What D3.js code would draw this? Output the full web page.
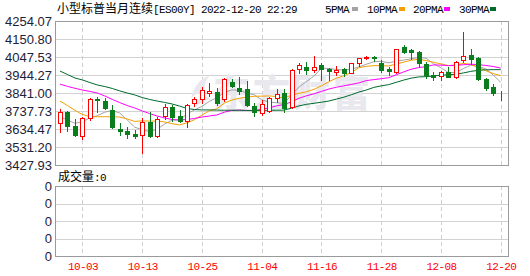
<!DOCTYPE html>
<html><head><meta charset="utf-8">
<script src="https://cdn.jsdelivr.net/npm/d3@7"></script>
<style>body{margin:0;background:#fff;}svg{display:block}</style>
</head><body>
<svg id="c" width="530" height="276"></svg>
<script>
const dates = ["09-28","09-29","09-30","10-03","10-04","10-05","10-06","10-07","10-10","10-11",
"10-12","10-13","10-14","10-17","10-18","10-19","10-20","10-21","10-24","10-25",
"10-26","10-27","10-28","10-31","11-01","11-02","11-03","11-04","11-07","11-08",
"11-09","11-10","11-11","11-14","11-15","11-16","11-17","11-18","11-21","11-22",
"11-23","11-24","11-25","11-28","11-29","11-30","12-01","12-02","12-05","12-06",
"12-07","12-08","12-09","12-12","12-13","12-14","12-15","12-16","12-19","12-20"];
const open = [3667,3730,3652,3596,3699,3807,3795,3744,3635,3623,
3606,3600,3676,3596,3711,3762,3709,3682,3782,3808,
3839,3845,3805,3906,3871,3862,3766,3728,3739,3811,
3839,3762,3976,3988,3973,3999,3977,3960,3977,3958,
4015,4044,4049,4015,3977,3963,4107,4086,4075,4007,
3944,3940,3963,3931,4029,4059,4040,3920,3877,3843];
const high = [3749,3738,3692,3702,3811,3820,3811,3772,3667,3648,
3629,3699,3734,3705,3778,3772,3744,3776,3820,3877,
3897,3868,3925,3920,3931,3912,3782,3801,3820,3862,
3862,3977,4015,4021,4053,4015,3983,3996,3983,4015,
4044,4055,4055,4030,3992,4093,4116,4092,4082,4017,
3963,3967,3992,4025,4189,4093,4046,3929,3891,3853];
const low = [3616,3623,3596,3575,3686,3734,3749,3642,3600,3581,
3585,3499,3590,3590,3692,3680,3673,3644,3768,3785,
3824,3772,3797,3877,3835,3766,3709,3715,3734,3791,
3734,3757,3954,3950,3962,3916,3916,3944,3939,3954,
3996,4036,4026,3963,3944,3958,4069,4036,3992,3925,
3916,3916,3932,3925,4021,4006,3916,3858,3830,3801];
const close = [3730,3653,3600,3698,3807,3799,3753,3648,3625,3606,
3593,3676,3596,3692,3759,3705,3680,3771,3805,3858,
3853,3782,3920,3881,3851,3772,3730,3776,3814,3834,
3753,3973,4002,3973,3988,3977,3969,3973,3958,4011,
4040,4049,4040,3973,3966,4092,4078,4078,4011,3944,
3935,3963,3935,4017,4053,4036,3921,3871,3843,3839];
const ma5 = [3705,3686,3667,3676,3698,3711,3731,3741,3726,3686,
3645,3630,3619,3633,3663,3686,3686,3721,3744,3764,
3793,3814,3844,3859,3857,3841,3831,3802,3789,3785,
3781,3830,3875,3907,3938,3983,3982,3976,3973,3978,
3990,4006,4020,4023,4014,4024,4030,4037,4045,4041,
4009,3986,3958,3959,3981,4001,3992,3980,3945,3902];
const ma10 = [3795,3769,3741,3718,3705,3705,3705,3705,3703,3692,
3678,3681,3680,3680,3675,3665,3658,3670,3688,3714,
3740,3750,3783,3801,3811,3817,3822,3823,3824,3821,
3811,3830,3839,3848,3862,3882,3906,3926,3940,3958,
3986,3994,3998,3998,3996,4007,4018,4029,4034,4027,
4017,4008,3998,4002,4011,4005,3989,3969,3952,3941];
const ma20 = [3892,3879,3868,3858,3850,3841,3824,3804,3786,3769,
3755,3738,3723,3709,3698,3689,3686,3689,3695,3703,
3709,3715,3731,3741,3743,3741,3740,3747,3756,3767,
3775,3790,3811,3825,3836,3850,3864,3874,3882,3890,
3899,3912,3918,3923,3929,3945,3962,3977,3987,3992,
4002,4001,3998,4000,4003,4006,4004,3999,3993,3984];
const ma30 = [3967,3947,3927,3916,3901,3887,3878,3867,3853,3841,
3830,3815,3804,3795,3787,3778,3766,3752,3746,3744,
3744,3743,3742,3742,3742,3741,3741,3741,3742,3742,
3743,3754,3767,3776,3782,3788,3795,3806,3817,3831,
3846,3858,3873,3882,3889,3902,3915,3926,3933,3935,
3938,3944,3945,3949,3956,3965,3971,3974,3975,3975];
const yTickLabels = ["4254.07","4150.80","4047.53","3944.27","3841.00","3737.73","3634.47","3531.20","3427.93"];
const xTickLabels = ["10-03","10-13","10-25","11-04","11-16","11-28","12-08","12-20"];
const volTickLabels = ["0","0","0","0","0"];
const titleCn = "小型标普当月连续";
const titleEn = "[ES00Y] 2022-12-20 22:29";
const volTitleCn = "成交量";
const volTitleEn = ":0";
const legendNames = ["5PMA","10PMA","20PMA","30PMA"];
const watermark = "东方财富";

const maSeries = [ma5, ma10, ma20, ma30];
const maColors = ["#a3a3a3","#f5a000","#ff00ff","#006a2c"];
const legendTextX = [325, 367, 413, 459];
const legendSwX = [352, 399, 444, 490];
const RED = "#ff0000", GREEN = "#0a7d1c";
const MONO = "'Liberation Mono','DejaVu Sans Mono',monospace";
const CJK = "'Noto Sans CJK SC',sans-serif";

const L = 55, R = 509, T = 21, B = 165, VT = 186, VB = 256;
const svg = d3.select("#c");
const px = v => Math.round(v) + 0.5;

const x = d3.scalePoint().domain(dates).range([60, 500.7]);
const y = d3.scaleLinear().domain([+yTickLabels[8], +yTickLabels[0]]).range([B, T]);
const yv = d3.scaleLinear().domain([0, volTickLabels.length - 1]).range([VB, VT]);

// title
const tt = svg.append("text").attr("x", 57).attr("y", 13).attr("fill", "#000");
tt.append("tspan").style("font-family", CJK).style("font-size", "12px").text(titleCn);
tt.append("tspan").style("font-family", MONO).style("font-size", "11px").style("letter-spacing", "-0.6px").text(titleEn);

// legend
legendNames.forEach((n, i) => {
  svg.append("text").attr("x", legendTextX[i]).attr("y", 13)
    .style("font-family", MONO).style("font-size", "11px").style("letter-spacing", "-0.6px")
    .attr("fill", "#000").text(n);
  svg.append("rect").attr("x", legendSwX[i]).attr("y", 7).attr("width", 6).attr("height", 4)
    .attr("fill", maColors[i]);
});

// grids main
const gMain = svg.append("g").attr("shape-rendering", "crispEdges");
gMain.selectAll("line.h").data(yTickLabels).join("line")
  .attr("x1", L).attr("x2", R)
  .attr("y1", d => px(y(+d))).attr("y2", d => px(y(+d)))
  .attr("stroke", "#d2d2d2");
const gVol = svg.append("g").attr("shape-rendering", "crispEdges");
gVol.selectAll("line.h").data(volTickLabels).join("line")
  .attr("x1", L).attr("x2", R)
  .attr("y1", (d, i) => px(yv(i))).attr("y2", (d, i) => px(yv(i)))
  .attr("stroke", "#d2d2d2");
// vertical dashed
const tickDates = xTickLabels;
[[T, B], [VT, VB]].forEach(([a, b]) => {
  svg.append("g").attr("shape-rendering", "crispEdges").selectAll("line").data(tickDates).join("line")
    .attr("x1", d => px(x(d))).attr("x2", d => px(x(d)))
    .attr("y1", a).attr("y2", b)
    .attr("stroke", "#cfcfcf").attr("stroke-dasharray", "4,3");
});

// watermark
svg.append("path")
  .attr("d", "M191,98 C194,86 200,79 210,75 C205,82 203,88 205,95 C200,92 196,94 191,98 Z M196,102 C201,97 207,96 212,99 C206,100 201,103 196,106 Z")
  .attr("fill", "#e8e8ee");
svg.append("text").attr("x", 213).attr("y", 107)
  .style("font-family", CJK).style("font-weight", "900").style("font-size", "37px")
  .style("letter-spacing", "3px")
  .attr("fill", "#e8e8ee").text(watermark);

// borders
svg.append("rect").attr("x", L + 0.5).attr("y", T + 0.5).attr("width", R - L - 1).attr("height", B - T)
  .attr("fill", "none").attr("stroke", "#9a9a9a").attr("shape-rendering", "crispEdges");
svg.append("rect").attr("x", L + 0.5).attr("y", VT + 0.5).attr("width", R - L - 1).attr("height", VB - VT)
  .attr("fill", "none").attr("stroke", "#9a9a9a").attr("shape-rendering", "crispEdges");

// MA lines
const line = d3.line().x((d, i) => x(dates[i])).y(d => y(d));
maSeries.forEach((s, k) => {
  svg.append("path").datum(s).attr("d", line).attr("fill", "none")
    .attr("stroke", maColors[k]).attr("stroke-width", 1);
});

// candles
const gc = svg.append("g").attr("shape-rendering", "crispEdges");
dates.forEach((d, i) => {
  const up = close[i] > open[i];
  const col = up ? RED : GREEN;
  const cx = Math.round(x(d));
  gc.append("line").attr("x1", cx + 0.5).attr("x2", cx + 0.5)
    .attr("y1", Math.round(y(high[i]))).attr("y2", Math.round(y(low[i])) + 1)
    .attr("stroke", col);
  const t = Math.round(y(Math.max(open[i], close[i])));
  const b = Math.round(y(Math.min(open[i], close[i])));
  gc.append("rect").attr("x", cx - 1.5).attr("y", t + 0.5)
    .attr("width", 4).attr("height", Math.max(b - t, 0))
    .attr("fill", up ? "#fff" : GREEN).attr("stroke", col);
});

// y axis labels
const yAxis = d3.axisLeft(y).tickValues(yTickLabels.map(Number))
  .tickFormat((d, i) => yTickLabels[i]).tickSize(0).tickPadding(3);
const ga = svg.append("g").attr("transform", `translate(${L},0)`).call(yAxis);
ga.select(".domain").remove();
ga.selectAll("text").style("font-family", "'Liberation Sans',Arial,sans-serif")
  .style("font-size", "13px").attr("fill", "#1e2238");

const vAxis = d3.axisLeft(yv).tickValues(d3.range(volTickLabels.length))
  .tickFormat((d, i) => volTickLabels[i]).tickSize(0).tickPadding(3);
const gva = svg.append("g").attr("transform", `translate(${L},0)`).call(vAxis);
gva.select(".domain").remove();
gva.selectAll("text").style("font-family", "'Liberation Sans',Arial,sans-serif")
  .style("font-size", "13px").attr("fill", "#1e2238");

// volume title
const vt = svg.append("text").attr("x", 58).attr("y", 181).attr("fill", "#000");
vt.append("tspan").style("font-family", CJK).style("font-size", "12px").text(volTitleCn);
vt.append("tspan").style("font-family", MONO).style("font-size", "11px").style("letter-spacing", "-0.6px").text(volTitleEn);

// x axis
const xAxis = d3.axisBottom(x).tickValues(xTickLabels).tickSize(0).tickPadding(0);
const gx = svg.append("g").attr("transform", `translate(0,262)`).call(xAxis);
gx.select(".domain").remove();
gx.selectAll("text").style("font-family", MONO).style("font-size", "11px")
  .style("letter-spacing", "-0.6px").attr("fill", RED).attr("dy", "0.71em");
</script>
</body></html>
